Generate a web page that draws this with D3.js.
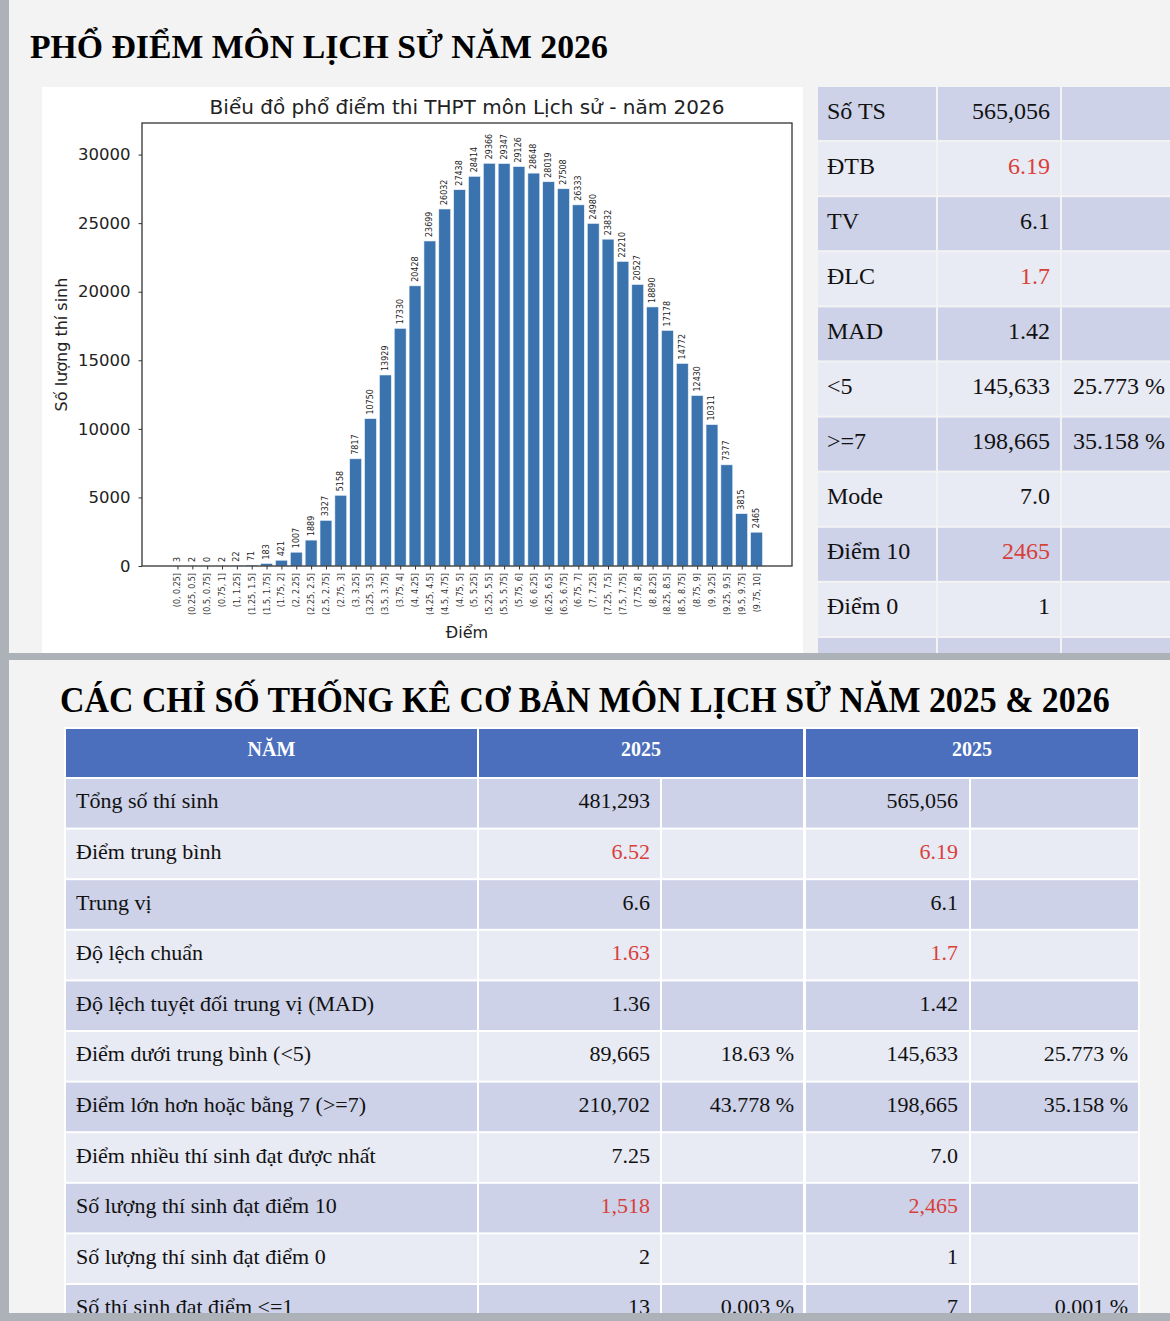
<!DOCTYPE html>
<html><head><meta charset="utf-8">
<script src="https://cdn.jsdelivr.net/npm/d3@7"></script>
<style>body{margin:0;background:#f3f3f3} svg{display:block}</style>
</head><body><div id="chart"></div>
<script>
// ---------- DATA ----------
const mainTitle = "PHỔ ĐIỂM MÔN LỊCH SỬ NĂM 2026";
const chartTitle = "Biểu đồ phổ điểm thi THPT môn Lịch sử - năm 2026";
const xAxisLabel = "Điểm";
const yAxisLabel = "Số lượng thí sinh";
const scoreBins = ["(0, 0.25]","(0.25, 0.5]","(0.5, 0.75]","(0.75, 1]","(1, 1.25]","(1.25, 1.5]","(1.5, 1.75]","(1.75, 2]",
  "(2, 2.25]","(2.25, 2.5]","(2.5, 2.75]","(2.75, 3]","(3, 3.25]","(3.25, 3.5]","(3.5, 3.75]","(3.75, 4]",
  "(4, 4.25]","(4.25, 4.5]","(4.5, 4.75]","(4.75, 5]","(5, 5.25]","(5.25, 5.5]","(5.5, 5.75]","(5.75, 6]",
  "(6, 6.25]","(6.25, 6.5]","(6.5, 6.75]","(6.75, 7]","(7, 7.25]","(7.25, 7.5]","(7.5, 7.75]","(7.75, 8]",
  "(8, 8.25]","(8.25, 8.5]","(8.5, 8.75]","(8.75, 9]","(9, 9.25]","(9.25, 9.5]","(9.5, 9.75]","(9.75, 10]"];
const counts = [3,2,0,2,22,71,183,421,1007,1889,3327,5158,7817,10750,13929,17330,20428,23699,26032,27438,
  28414,29366,29347,29126,28648,28019,27508,26333,24980,23832,22210,20527,18890,17178,14772,12430,10311,7377,3815,2465];
const yTicks = [0,5000,10000,15000,20000,25000,30000];

const statLabels   = ["Số TS","ĐTB","TV","ĐLC","MAD","<5",">=7","Mode","Điểm 10","Điểm 0",""];
const statValues   = ["565,056","6.19","6.1","1.7","1.42","145,633","198,665","7.0","2465","1",""];
const statPercents = ["","","","","","25.773 %","35.158 %","","","",""];
const statRed      = [false,true,false,true,false,false,false,false,true,false,false];

const compareTitle = "CÁC CHỈ SỐ THỐNG KÊ CƠ BẢN MÔN LỊCH SỬ NĂM 2025 & 2026";
const compareHeader = ["NĂM","2025","2025"];
const compareLabels = ["Tổng số thí sinh","Điểm trung bình","Trung vị","Độ lệch chuẩn","Độ lệch tuyệt đối trung vị (MAD)",
  "Điểm dưới trung bình (<5)","Điểm lớn hơn hoặc bằng 7 (>=7)","Điểm nhiều thí sinh đạt được nhất",
  "Số lượng thí sinh đạt điểm 10","Số lượng thí sinh đạt điểm 0","Số thí sinh đạt điểm <=1"];
const values2025 = ["481,293","6.52","6.6","1.63","1.36","89,665","210,702","7.25","1,518","2","13"];
const pct2025    = ["","","","","","18.63 %","43.778 %","","","","0.003 %"];
const values2026 = ["565,056","6.19","6.1","1.7","1.42","145,633","198,665","7.0","2,465","1","7"];
const pct2026    = ["","","","","","25.773 %","35.158 %","","","","0.001 %"];
const compareRed = [false,true,false,true,false,false,false,false,true,false,false];

// ---------- DRAW ----------
(function draw() {
const W = 1170, H = 1321;
const RED = "#d8403a", DARK = "#cdd2e8", LIGHT = "#e8eaf4", GRAYBAND = "#adb1b8";
const svg = d3.select("#chart").append("svg").attr("width", W).attr("height", H);
svg.append("rect").attr("width", W).attr("height", H).attr("fill", "#f3f3f3");

function fitTitle(txt, x0, y0, size, target) {
  const t = svg.append("text").attr("font-family", "Liberation Serif").attr("font-weight", "bold")
    .attr("font-size", size).attr("fill", "#000").text(txt);
  const natural = t.node().getComputedTextLength();
  t.attr("transform", `translate(${x0},${y0}) scale(${target / natural},1)`);
}
fitTitle(mainTitle, 30, 58, 34, 578);

svg.append("rect").attr("x", 42).attr("y", 87).attr("width", 761).attr("height", 566).attr("fill", "#fff");

const pl = 142, pr = 792, pt = 123, pb = 566;
const x = d3.scaleLinear().domain([-2.39, 41.39]).range([pl, pr]);
const y = d3.scaleLinear().domain([0, d3.max(counts) * 1.1]).range([pb, pt]);
const g = svg.append("g").attr("font-family", "DejaVu Sans");

g.selectAll("rect.bar").data(counts).join("rect").attr("class", "bar")
  .attr("x", (d, i) => x(i - 0.4)).attr("width", (d, i) => x(i + 0.4) - x(i - 0.4))
  .attr("y", d => y(d)).attr("height", d => pb - y(d))
  .attr("fill", "#3a73ae").attr("stroke", "#eef4fb").attr("stroke-width", 0.6);

g.selectAll("text.val").data(counts).join("text").attr("class", "val")
  .attr("transform", (d, i) => `translate(${x(i)},${y(d) - 4}) rotate(-90)`)
  .attr("dominant-baseline", "central").attr("font-size", 8).attr("fill", "#222").text(d => d);

const xAxis = d3.axisBottom(x).tickValues(d3.range(counts.length)).tickFormat(i => scoreBins[i]).tickSize(3.5).tickPadding(3.5);
const gx = g.append("g").attr("transform", `translate(0,${pb})`).call(xAxis);
gx.select(".domain").remove();
gx.selectAll("line").attr("stroke", "#333");
gx.selectAll("text").attr("font-family", "DejaVu Sans").attr("font-size", 8).attr("fill", "#333")
  .attr("transform", "rotate(-90)").attr("text-anchor", "end").attr("dy", 0)
  .attr("x", -7).attr("y", 0).attr("dominant-baseline", "central");

const yAxis = d3.axisLeft(y).tickValues(yTicks).tickFormat(d3.format("d")).tickSize(3.5).tickPadding(8);
const gy = g.append("g").attr("transform", `translate(${pl},0)`).call(yAxis);
gy.select(".domain").remove();
gy.selectAll("line").attr("stroke", "#333");
gy.selectAll("text").attr("font-family", "DejaVu Sans").attr("font-size", 16.5).attr("fill", "#222");

g.append("rect").attr("x", pl).attr("y", pt).attr("width", pr - pl).attr("height", pb - pt)
  .attr("fill", "none").attr("stroke", "#333").attr("stroke-width", 1.3);

g.append("text").attr("x", 467).attr("y", 114).attr("text-anchor", "middle")
  .attr("font-size", 20).attr("fill", "#222").text(chartTitle);
g.append("text").attr("x", 467).attr("y", 638).attr("text-anchor", "middle")
  .attr("font-size", 16).attr("fill", "#222").text(xAxisLabel);
g.append("text").attr("transform", `translate(67,${(pt + pb) / 2}) rotate(-90)`).attr("text-anchor", "middle")
  .attr("font-size", 16).attr("fill", "#222").text(yAxisLabel);

const sCols = [[818, 936], [938, 1060], [1062, 1172]];
const sRowTop = i => 87 + i * 55.1;
const st = svg.append("g").attr("font-family", "Liberation Serif").attr("font-size", 24);
statLabels.forEach((lab, i) => {
  const fill = i % 2 === 0 ? DARK : LIGHT;
  sCols.forEach(c => st.append("rect").attr("x", c[0]).attr("y", sRowTop(i)).attr("width", c[1] - c[0]).attr("height", 53).attr("fill", fill));
  const by = sRowTop(i) + 26.5 + 5;
  st.append("text").attr("x", 827).attr("y", by).attr("fill", "#111").text(lab);
  st.append("text").attr("x", 1050).attr("y", by).attr("text-anchor", "end").attr("fill", statRed[i] ? RED : "#111").text(statValues[i]);
  st.append("text").attr("x", 1073).attr("y", by).attr("fill", "#111").text(statPercents[i]);
});

svg.append("rect").attr("x", 0).attr("y", 653).attr("width", W).attr("height", 7).attr("fill", GRAYBAND);
svg.append("rect").attr("x", 0).attr("y", 660).attr("width", W).attr("height", 653).attr("fill", "#f3f3f3");

fitTitle(compareTitle, 60, 712, 36, 1050);

const ct = svg.append("g").attr("font-family", "Liberation Serif");
ct.append("rect").attr("x", 64).attr("y", 727).attr("width", 1076).attr("height", 590).attr("fill", "#fff");
const hCols = [[66, 477], [479, 803], [806, 1138]];
hCols.forEach((c, j) => {
  ct.append("rect").attr("x", c[0]).attr("y", 729).attr("width", c[1] - c[0]).attr("height", 48).attr("fill", "#4b6fbd");
  ct.append("text").attr("x", (c[0] + c[1]) / 2).attr("y", 756).attr("text-anchor", "middle")
    .attr("font-weight", "bold").attr("font-size", 20).attr("fill", "#fff").text(compareHeader[j]);
});
const cCols = [[66, 477], [479, 660], [662, 803], [806, 969], [971, 1138]];
const cRowTop = i => 779 + i * 50.6;
compareLabels.forEach((lab, i) => {
  const fill = i % 2 === 0 ? DARK : LIGHT;
  cCols.forEach(c => ct.append("rect").attr("x", c[0]).attr("y", cRowTop(i)).attr("width", c[1] - c[0]).attr("height", 48.6).attr("fill", fill));
  const by = cRowTop(i) + 24.3 + 5;
  const t = (xx, s, anchor, red) => ct.append("text").attr("x", xx).attr("y", by).attr("text-anchor", anchor)
    .attr("font-size", 22).attr("fill", red ? RED : "#111").text(s);
  t(76, lab, "start", false);
  t(650, values2025[i], "end", compareRed[i]);
  t(794, pct2025[i], "end", false);
  t(958, values2026[i], "end", compareRed[i]);
  t(1128, pct2026[i], "end", false);
});

svg.append("rect").attr("x", 0).attr("y", 1313).attr("width", W).attr("height", 8).attr("fill", GRAYBAND);
svg.append("rect").attr("x", 0).attr("y", 0).attr("width", 9).attr("height", H).attr("fill", GRAYBAND);
})();
</script></body></html>
